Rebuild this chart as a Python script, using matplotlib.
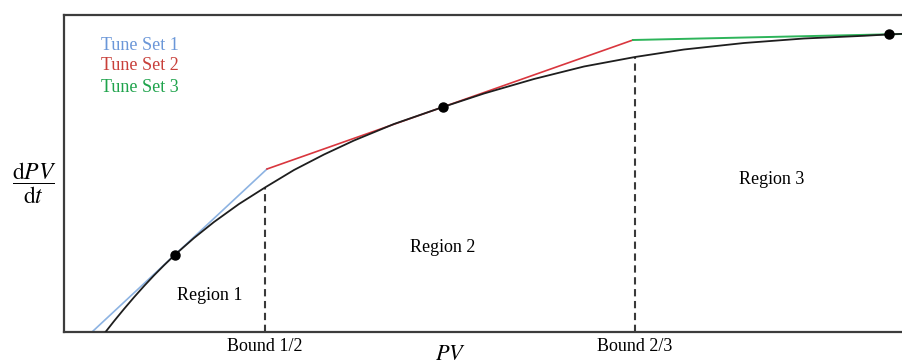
import numpy as np
from matplotlib import pyplot as plt
import matplotlib as mpl

mpl.rcParams['font.family'] = ['Liberation Serif', 'DejaVu Serif']
mpl.rcParams['mathtext.fontset'] = 'stix'

# process curve dPV/dt vs PV (arbitrary units)
curve_pv = [41.5, 50, 60, 70, 80, 90, 100, 111, 130, 150, 175, 201, 230, 260, 290, 330,
            379, 420, 470, 520, 571, 620, 680, 740, 800, 825, 839]
curve_rate = [0, 10.8, 23, 34.7, 45.9, 56.6, 66.7, 77.3, 94, 110, 128, 144.5, 162, 177.5,
              191.5, 208, 225, 238.5, 253, 265.5, 275, 282.5, 289, 293.5, 296.2, 297.6, 298.2]

# piecewise linear tune sets
tune1_pv = [28, 203]
tune1_rate = [0, 163]
tune2_pv = [203, 569]
tune2_rate = [163, 292]
tune3_pv = [569, 839]
tune3_rate = [292, 298]

# linearisation points
op_pv = [111, 379, 825]
op_rate = [77.3, 225, 297.7]

# region bounds
bound_pv = [201, 571]
bound_rate = [144.5, 275]
bound_labels = ['Bound 1/2', 'Bound 2/3']

region_labels = ['Region 1', 'Region 2', 'Region 3']
region_pv = [146, 379, 708]
region_rate = [37, 85, 152]

set_labels = ['Tune Set 1', 'Tune Set 2', 'Tune Set 3']
line_cols = ['#8db3e2', '#d9363e', '#2db45a']
text_cols = ['#6a97d8', '#c8403a', '#1fa34c']

plt.close('all')
fig = plt.figure(figsize=(9.03, 3.64), dpi=100)
ax = fig.add_axes([64/903., 32/364., 839/903., 317/364.])

ax.plot(tune1_pv, tune1_rate, '-', color=line_cols[0], lw=1.2, zorder=2)
ax.plot(tune2_pv, tune2_rate, '-', color=line_cols[1], lw=1.2, zorder=2)
ax.plot(tune3_pv, tune3_rate, '-', color=line_cols[2], lw=1.4, zorder=2)
ax.plot(curve_pv, curve_rate, '-', color='#1e1e1e', lw=1.3, zorder=3)
ax.plot(op_pv, op_rate, 'o', color='k', markersize=6.5, zorder=4, clip_on=False)

for xb, yb in zip(bound_pv, bound_rate):
    ax.plot([xb, xb], [0, yb], color='#3a3a3a', lw=1.5, dashes=(3.5, 2.2), zorder=1)

for lab, xr, yr in zip(region_labels, region_pv, region_rate):
    ax.text(xr, yr, lab, fontsize=13, ha='center', va='center')

for i, lab in enumerate(set_labels):
    ax.text(37, 287 - 21*i, lab, color=text_cols[i], fontsize=13, ha='left', va='center')

ax.set_xlim(0, 839)
ax.set_ylim(0, 317)
ax.set_yticks([])
ax.set_xticks(bound_pv)
ax.set_xticklabels(bound_labels, fontsize=13)
ax.tick_params(axis='x', length=0, pad=4)

for s in ['left', 'bottom', 'top']:
    ax.spines[s].set_color('#3c3c3c')
    ax.spines[s].set_linewidth(1.6)
ax.spines['right'].set_visible(False)

ax.text(386, -0.045, r'$PV$', transform=ax.get_xaxis_transform(),
        fontsize=16, ha='center', va='top')
ax.text(-0.036, 0.47, r'$\dfrac{\mathrm{d}PV}{\mathrm{d}t}$', transform=ax.transAxes,
        fontsize=17, ha='center', va='center')

plt.savefig('out.png', dpi=100)
